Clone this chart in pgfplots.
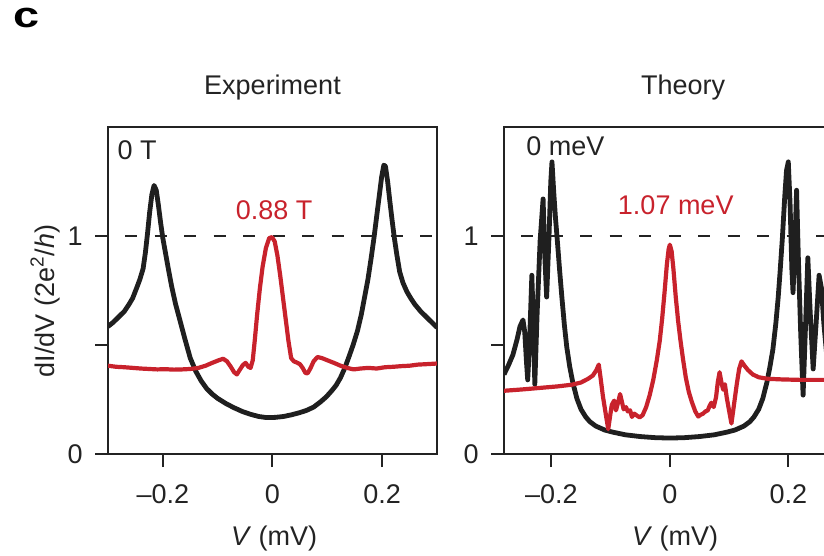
\documentclass[border=0pt]{standalone}
\usepackage{pgfplots}
\pgfplotsset{compat=1.18}
\usepackage{fontspec}
\setmainfont{Liberation Sans}
\definecolor{natred}{RGB}{200,34,44}
\definecolor{ink}{RGB}{35,35,35}

\begin{document}
\fontsize{13.5}{16}\selectfont
\begin{tikzpicture}
\pgfplotsset{
  panel/.style={
    scale only axis, height=163.5pt,
    ymin=0, ymax=1.5,
    ytick={0,0.5,1}, yticklabels={0,,1},
    xtick={-0.2,0,0.2}, xticklabels={\textendash0.2,0,0.2},
    xtick pos=lower, ytick pos=left,
    tick align=outside, major tick length=6.5pt,
    axis line style={line width=1pt, ink},
    every tick/.style={line width=1pt, ink},
    /pgf/number format/assume math mode=true,
    tick label style={text=ink, font=\fontsize{13.5}{16}\selectfont},
    xticklabel style={yshift=-4pt},
    yticklabel style={xshift=-1.5pt},
    xlabel={\textit{V} (mV)},
    label style={text=ink, font=\fontsize{13.5}{16}\selectfont},
    title style={anchor=base, yshift=10pt, text=ink, font=\fontsize{13.5}{16}\selectfont},
  },
  blk/.style={line width=2.4pt, color=black!88, line join=round},
  rd/.style={line width=2.1pt, color=natred, line join=round},
  ref/.style={line width=1pt, ink, dash pattern=on 6pt off 8.75pt, dash phase=6.25pt},
}

% "c" panel letter
\node[anchor=base west, inner sep=0, text=black] at (6.5pt,264pt)
  {\fontsize{18}{18}\selectfont\bfseries\scalebox{1.3}[1]{c}};

% ---- Experiment ----
\begin{axis}[panel,
  at={(54pt,51pt)}, anchor=south west,
  width=164.5pt, xmin=-0.3, xmax=0.3,
  title={Experiment},
  xlabel style={at={(axis description cs:0.505,0)}, anchor=base, yshift=-45.5pt},
  ylabel={dI/dV (2e\textsuperscript{2}/\textit{h})},
  ylabel style={at={(axis description cs:-0.191,0.468)}, anchor=center},
]
\addplot[ref] coordinates {(-0.3,1) (0.3,1)};
% 0 T
\addplot[blk] coordinates {
(-0.300,0.585) (-0.290,0.605) (-0.280,0.630) (-0.270,0.655) (-0.262,0.685)
(-0.255,0.715) (-0.248,0.760) (-0.242,0.800) (-0.236,0.850) (-0.232,0.920)
(-0.228,1.010) (-0.224,1.110) (-0.220,1.190) (-0.216,1.232) (-0.212,1.210)
(-0.208,1.140) (-0.204,1.060) (-0.200,0.990) (-0.195,0.920) (-0.190,0.850)
(-0.184,0.770) (-0.177,0.690) (-0.169,0.615) (-0.160,0.530) (-0.150,0.440)
(-0.140,0.380) (-0.130,0.335) (-0.120,0.300) (-0.110,0.275) (-0.100,0.255)
(-0.084,0.230) (-0.070,0.212) (-0.055,0.195) (-0.040,0.182) (-0.025,0.172)
(-0.011,0.167) (0.005,0.168) (0.020,0.172) (0.035,0.180) (0.050,0.190)
(0.062,0.200) (0.075,0.215) (0.088,0.240) (0.098,0.262) (0.108,0.290)
(0.116,0.315) (0.124,0.350) (0.132,0.395) (0.140,0.450) (0.147,0.500)
(0.155,0.565) (0.162,0.640) (0.168,0.720) (0.174,0.800) (0.180,0.900)
(0.185,0.990) (0.190,1.090) (0.195,1.190) (0.199,1.270) (0.203,1.325)
(0.206,1.320) (0.210,1.250) (0.214,1.160) (0.218,1.075) (0.222,0.995)
(0.227,0.910) (0.232,0.835) (0.238,0.785) (0.245,0.745) (0.252,0.715)
(0.260,0.685) (0.270,0.655) (0.280,0.630) (0.290,0.605) (0.300,0.580)
};
% 0.88 T
\addplot[rd] coordinates {
(-0.300,0.405) (-0.285,0.400) (-0.270,0.398) (-0.255,0.395) (-0.240,0.392)
(-0.225,0.390) (-0.210,0.388) (-0.195,0.389) (-0.180,0.387) (-0.165,0.388)
(-0.150,0.390) (-0.135,0.395) (-0.122,0.405) (-0.110,0.418) (-0.098,0.430)
(-0.090,0.437) (-0.083,0.425) (-0.076,0.400) (-0.070,0.375) (-0.065,0.365)
(-0.060,0.385) (-0.054,0.408) (-0.049,0.418) (-0.044,0.400) (-0.040,0.395)
(-0.036,0.430) (-0.032,0.530) (-0.028,0.640) (-0.023,0.760) (-0.018,0.860)
(-0.012,0.945) (-0.006,0.990) (-0.001,0.995) (0.004,0.975) (0.009,0.910)
(0.014,0.820) (0.019,0.720) (0.024,0.620) (0.029,0.520) (0.034,0.440)
(0.039,0.425) (0.044,0.420) (0.050,0.412) (0.055,0.395) (0.060,0.372)
(0.064,0.370) (0.069,0.392) (0.075,0.425) (0.082,0.445) (0.090,0.440)
(0.100,0.430) (0.112,0.418) (0.124,0.405) (0.136,0.395) (0.148,0.388)
(0.160,0.392) (0.175,0.395) (0.190,0.392) (0.205,0.398) (0.220,0.400)
(0.235,0.403) (0.250,0.405) (0.265,0.410) (0.280,0.412) (0.300,0.415)
};
\node[anchor=west, inner sep=0, text=ink] at (axis cs:-0.283,1.395) {0 T};
\node[inner sep=0, text=natred] at (axis cs:0.003,1.12) {0.88 T};
\end{axis}

% ---- Theory ----
\begin{axis}[panel,
  at={(252pt,51pt)}, anchor=south west,
  width=160.5pt, xmin=-0.28, xmax=0.262,
  title={Theory},
  title style={at={(0.558,1)}},
  xlabel style={at={(axis description cs:0.533,0)}, anchor=base, yshift=-45.5pt},
]
\addplot[ref] coordinates {(-0.28,1) (0.262,1)};
% 0 meV
\addplot[blk] coordinates {
(-0.280,0.365) (-0.272,0.410) (-0.265,0.455) (-0.258,0.525) (-0.253,0.585)
(-0.248,0.615) (-0.245,0.560) (-0.242,0.420) (-0.240,0.340) (-0.237,0.500)
(-0.233,0.820) (-0.230,0.560) (-0.228,0.320) (-0.224,0.650) (-0.219,0.980)
(-0.214,1.170) (-0.211,0.900) (-0.208,0.720) (-0.204,1.000) (-0.201,1.250)
(-0.199,1.340) (-0.196,1.200) (-0.193,1.080) (-0.190,0.980) (-0.186,0.840)
(-0.182,0.710) (-0.178,0.590) (-0.174,0.490) (-0.169,0.400) (-0.164,0.330)
(-0.157,0.255) (-0.150,0.205) (-0.142,0.170) (-0.135,0.148) (-0.125,0.128)
(-0.110,0.110) (-0.096,0.100) (-0.075,0.088) (-0.050,0.080) (-0.025,0.075)
(0.000,0.073) (0.025,0.075) (0.050,0.080) (0.075,0.088) (0.096,0.100)
(0.110,0.110) (0.125,0.128) (0.135,0.148) (0.142,0.170) (0.150,0.205)
(0.157,0.255) (0.164,0.330) (0.169,0.400) (0.174,0.480) (0.179,0.600)
(0.183,0.720) (0.186,0.830) (0.190,0.990) (0.194,1.180) (0.197,1.300)
(0.200,1.340) (0.203,1.150) (0.206,0.850) (0.208,0.740) (0.211,0.950)
(0.214,1.210) (0.217,0.900) (0.221,0.550) (0.225,0.270) (0.229,0.580)
(0.233,0.900) (0.237,0.650) (0.242,0.390) (0.247,0.600) (0.252,0.820)
(0.256,0.760) (0.260,0.600) (0.265,0.450) (0.270,0.550)
};
% 1.07 meV
\addplot[rd] coordinates {
(-0.280,0.290) (-0.250,0.296) (-0.220,0.303) (-0.190,0.310) (-0.165,0.318)
(-0.150,0.328) (-0.138,0.345) (-0.130,0.360) (-0.124,0.385) (-0.120,0.410)
(-0.117,0.350) (-0.113,0.265) (-0.108,0.180) (-0.104,0.114) (-0.100,0.190)
(-0.098,0.225) (-0.094,0.245) (-0.091,0.200) (-0.087,0.240) (-0.084,0.275)
(-0.081,0.240) (-0.078,0.205) (-0.074,0.215) (-0.071,0.195) (-0.067,0.200)
(-0.064,0.170) (-0.060,0.185) (-0.055,0.175) (-0.051,0.168) (-0.046,0.178)
(-0.040,0.215) (-0.034,0.270) (-0.028,0.340) (-0.022,0.430) (-0.017,0.520)
(-0.013,0.620) (-0.009,0.740) (-0.005,0.870) (-0.002,0.940) (0.000,0.960)
(0.003,0.930) (0.006,0.850) (0.010,0.720) (0.014,0.610) (0.018,0.520)
(0.022,0.440) (0.027,0.350) (0.032,0.285) (0.037,0.240) (0.043,0.195)
(0.048,0.172) (0.052,0.180) (0.056,0.185) (0.060,0.195) (0.064,0.200)
(0.067,0.220) (0.070,0.235) (0.074,0.215) (0.078,0.260) (0.081,0.330)
(0.084,0.375) (0.087,0.330) (0.090,0.295) (0.093,0.320) (0.096,0.260)
(0.100,0.200) (0.104,0.140) (0.107,0.200) (0.110,0.260) (0.113,0.320)
(0.117,0.390) (0.121,0.425) (0.126,0.405) (0.132,0.385) (0.140,0.365)
(0.150,0.352) (0.165,0.345) (0.190,0.342) (0.220,0.340) (0.262,0.340)
};
\node[anchor=west, inner sep=0, text=ink] at (axis cs:-0.243,1.41) {0 meV};
\node[inner sep=0, text=natred] at (axis cs:0.01,1.14) {1.07 meV};
\end{axis}

\pgfresetboundingbox
\useasboundingbox (0,0) rectangle (412pt,278pt);
\end{tikzpicture}
\end{document}
